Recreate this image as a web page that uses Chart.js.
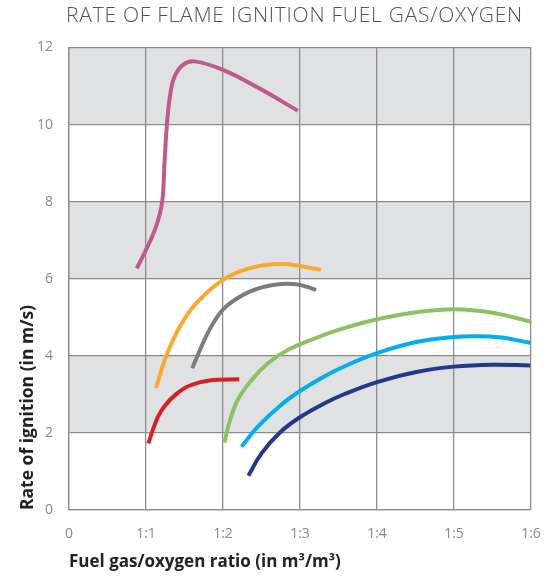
<!DOCTYPE html>
<html>
<head>
<meta charset="utf-8">
<script src="https://cdn.jsdelivr.net/npm/chart.js@4/dist/chart.umd.min.js"></script>
<style>
html,body{margin:0;padding:0;background:#fff;}
#wrap{width:557px;height:576px;position:relative;}
</style>
</head>
<body>
<div id="wrap"><canvas id="c" width="557" height="576"></canvas></div>
<script>
const titleText = 'RATE OF FLAME IGNITION FUEL GAS/OXYGEN';
const xTitle = 'Fuel gas/oxygen ratio (in m³/m³)';
const yTitle = 'Rate of ignition (in m/s)';
const xTickLabels = ['0', '1:1', '1:2', '1:3', '1:4', '1:5', '1:6'];
const yTicks = [0, 2, 4, 6, 8, 10, 12];
const shadedBands = [[2, 4], [6, 8], [10, 12]];

const pinkX = [0.88, 1.00, 1.13, 1.21, 1.24, 1.27, 1.31, 1.37, 1.48, 1.63, 2.0, 2.47, 2.97];
const pinkY = [6.27, 6.75, 7.35, 8.0, 9.0, 9.95, 10.72, 11.24, 11.55, 11.64, 11.42, 10.94, 10.36];
const orangeX = [1.13, 1.26, 1.44, 1.65, 2.0, 2.34, 2.78, 3.27];
const orangeY = [3.16, 3.98, 4.76, 5.36, 5.97, 6.27, 6.38, 6.23];
const grayX = [1.60, 1.74, 1.87, 2.04, 2.34, 2.65, 2.95, 3.21];
const grayY = [3.68, 4.33, 4.84, 5.28, 5.66, 5.84, 5.86, 5.71];
const redX = [1.03, 1.15, 1.25, 1.40, 1.57, 1.82, 2.21];
const redY = [1.73, 2.40, 2.72, 3.02, 3.23, 3.36, 3.39];
const greenX = [2.02, 2.08, 2.19, 2.37, 2.58, 2.84, 3.19, 3.51, 4.0, 4.51, 5.0, 5.5, 5.99];
const greenY = [1.75, 2.25, 2.85, 3.37, 3.80, 4.15, 4.45, 4.68, 4.95, 5.13, 5.21, 5.12, 4.89];
const lightBlueX = [2.24, 2.45, 2.75, 3.01, 3.32, 3.58, 4.0, 4.51, 5.0, 5.3, 5.59, 5.99];
const lightBlueY = [1.64, 2.16, 2.72, 3.10, 3.47, 3.73, 4.07, 4.36, 4.49, 4.51, 4.48, 4.34];
const darkBlueX = [2.33, 2.50, 2.75, 3.01, 3.32, 3.58, 4.0, 4.51, 5.0, 5.5, 5.99];
const darkBlueY = [0.89, 1.47, 2.03, 2.42, 2.77, 3.01, 3.32, 3.58, 3.72, 3.77, 3.75];

function pts(xs, ys) { return xs.map((x, i) => ({x: x, y: ys[i]})); }

function series(label, xs, ys, color) {
  return {
    label: label,
    data: pts(xs, ys),
    borderColor: color,
    backgroundColor: color,
    borderWidth: 4,
    pointRadius: 0,
    fill: false,
    tension: 0.4,
    borderCapStyle: 'butt'
  };
}

const bandsPlugin = {
  id: 'bands',
  beforeDraw(chart) {
    const {ctx, chartArea, scales} = chart;
    ctx.save();
    ctx.fillStyle = '#e0e1e3';
    shadedBands.forEach(b => {
      const y1 = scales.y.getPixelForValue(b[1]);
      const y0 = scales.y.getPixelForValue(b[0]);
      ctx.fillRect(chartArea.left, y1, chartArea.right - chartArea.left, y0 - y1);
    });
    ctx.restore();
  },
  afterDraw(chart) {
    const {ctx} = chart;
    ctx.save();
    ctx.font = '300 21px "Open Sans"';
    ctx.fillStyle = '#555555';
    ctx.textAlign = 'right';
    ctx.textBaseline = 'middle';
    try { ctx.letterSpacing = '0.75px'; } catch (e) {}
    ctx.fillText(titleText, 523, 16);
    ctx.restore();
  }
};

new Chart(document.getElementById('c'), {
  type: 'line',
  data: {
    datasets: [
      series('Pink', pinkX, pinkY, '#c05a8b'),
      series('Orange', orangeX, orangeY, '#f9aa2e'),
      series('Gray', grayX, grayY, '#7c7c7e'),
      series('Red', redX, redY, '#d42027'),
      series('Green', greenX, greenY, '#8cc164'),
      series('Light blue', lightBlueX, lightBlueY, '#03aeea'),
      series('Dark blue', darkBlueX, darkBlueY, '#24388b')
    ]
  },
  options: {
    responsive: false,
    animation: false,
    devicePixelRatio: 1,
    layout: {padding: {top: 47.5, right: 26, bottom: 0, left: 0}},
    plugins: {
      legend: {display: false},
      title: {display: false},
      tooltip: {enabled: false}
    },
    scales: {
      x: {
        type: 'linear',
        min: 0, max: 6,
        afterFit(s) { s.height = 66; },
        afterBuildTicks(s) { s.ticks = xTickLabels.map((_, i) => ({value: i})); },
        ticks: {
          padding: 16,
          color: '#8a8a8a',
          font: {family: '"Open Sans"', size: 14},
          callback: (v) => xTickLabels[v]
        },
        grid: {color: '#8c8c8c', lineWidth: 1.3, drawTicks: false},
        border: {color: '#8c8c8c', width: 1.3},
        title: {
          display: true,
          text: xTitle,
          align: 'start',
          color: '#222222',
          font: {family: '"Open Sans"', size: 17, weight: 'bold'},
          padding: {top: 0, bottom: 4}
        }
      },
      y: {
        type: 'linear',
        min: 0, max: 12,
        afterFit(s) { s.width = 69; },
        afterBuildTicks(s) { s.ticks = yTicks.map(v => ({value: v})); },
        ticks: {
          padding: 16,
          color: '#8a8a8a',
          font: {family: '"Open Sans"', size: 14}
        },
        grid: {color: '#8c8c8c', lineWidth: 1.3, drawTicks: false},
        border: {color: '#8c8c8c', width: 1.3},
        title: {
          display: true,
          text: yTitle,
          align: 'start',
          color: '#222222',
          font: {family: '"Open Sans"', size: 17.5, weight: 'bold'},
          padding: {top: 18, bottom: 0}
        }
      }
    }
  },
  plugins: [bandsPlugin]
});
</script>
</body>
</html>
